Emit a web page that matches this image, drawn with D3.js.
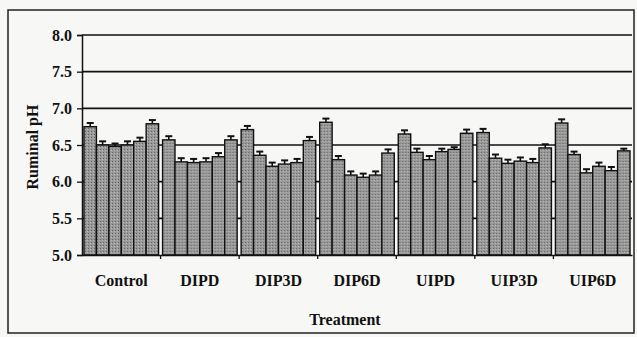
<!DOCTYPE html>
<html>
<head>
<meta charset="utf-8">
<script src="https://cdn.jsdelivr.net/npm/d3@7"></script>
<style>
  body { margin: 0; background: #f7f7f5; }
</style>
</head>
<body>
<div id="chart"></div>
<script>
// treatments and the six bars in each group
const treatments = ["Control", "DIPD", "DIP3D", "DIP6D", "UIPD", "UIP3D", "UIP6D"];
const phValues = [
  [6.75, 6.50, 6.48, 6.50, 6.55, 6.79],
  [6.57, 6.27, 6.26, 6.27, 6.34, 6.57],
  [6.71, 6.36, 6.21, 6.24, 6.26, 6.56],
  [6.81, 6.30, 6.09, 6.06, 6.09, 6.39],
  [6.65, 6.40, 6.30, 6.41, 6.44, 6.66],
  [6.67, 6.32, 6.25, 6.28, 6.26, 6.46],
  [6.80, 6.37, 6.12, 6.21, 6.15, 6.42]
];
const phErrors = [
  [0.05, 0.05, 0.04, 0.05, 0.05, 0.05],
  [0.05, 0.05, 0.05, 0.05, 0.05, 0.05],
  [0.05, 0.05, 0.05, 0.05, 0.05, 0.05],
  [0.05, 0.05, 0.05, 0.05, 0.05, 0.05],
  [0.05, 0.05, 0.05, 0.04, 0.03, 0.05],
  [0.05, 0.05, 0.05, 0.05, 0.05, 0.05],
  [0.05, 0.04, 0.05, 0.05, 0.05, 0.03]
];
const yTicks = [5.0, 5.5, 6.0, 6.5, 7.0, 7.5, 8.0];

const SERIF = '"Liberation Serif", "DejaVu Serif", serif';
const W = 637, H = 337;
const margin = {top: 35, right: 5, bottom: 82, left: 82};
const width = W - margin.left - margin.right;
const height = H - margin.top - margin.bottom;

const svg = d3.select("#chart").append("svg")
  .attr("width", W).attr("height", H);

// stippled grey fill like the scanned bars
const pat = svg.append("defs").append("pattern")
  .attr("id", "stipple").attr("width", 3).attr("height", 3)
  .attr("patternUnits", "userSpaceOnUse");
pat.append("rect").attr("width", 3).attr("height", 3).attr("fill", "#999");
pat.append("rect").attr("x", 0).attr("y", 0).attr("width", 1).attr("height", 1).attr("fill", "#666");
pat.append("rect").attr("x", 2).attr("y", 1).attr("width", 1).attr("height", 1).attr("fill", "#bbb");

// outer frame
svg.append("rect")
  .attr("x", 8).attr("y", 10).attr("width", 626).attr("height", 323)
  .attr("fill", "none").attr("stroke", "#222").attr("stroke-width", 1.5);

const g = svg.append("g").attr("transform", `translate(${margin.left},${margin.top})`);

const x0 = d3.scaleBand().domain(treatments).range([0, width]).paddingInner(0).paddingOuter(0);
const x1 = d3.scaleBand().domain(d3.range(6)).range([0, x0.bandwidth()]).paddingOuter(0.16).paddingInner(0);
const y = d3.scaleLinear().domain([5, 8]).range([height, 0]);

// gridlines
g.append("g").selectAll("line").data(yTicks.slice(1)).join("line")
  .attr("x1", 0).attr("x2", width)
  .attr("y1", d => y(d)).attr("y2", d => y(d))
  .attr("stroke", "#111").attr("stroke-width", 1.6);

// bars
const groups = g.append("g").selectAll("g").data(treatments).join("g")
  .attr("transform", d => `translate(${x0(d)},0)`);

groups.selectAll("rect")
  .data((d, i) => phValues[i].map((v, j) => ({v, j, e: phErrors[i][j]})))
  .join("rect")
  .attr("x", d => x1(d.j))
  .attr("y", d => y(d.v))
  .attr("width", x1.bandwidth())
  .attr("height", d => height - y(d.v))
  .attr("fill", "url(#stipple)")
  .attr("stroke", "#111").attr("stroke-width", 1.4);

// error bars (upper only)
const err = groups.selectAll("g.err")
  .data((d, i) => phValues[i].map((v, j) => ({v, j, e: phErrors[i][j]})))
  .join("g").attr("class", "err");
err.append("line")
  .attr("x1", d => x1(d.j) + x1.bandwidth() / 2)
  .attr("x2", d => x1(d.j) + x1.bandwidth() / 2)
  .attr("y1", d => y(d.v)).attr("y2", d => y(d.v + d.e))
  .attr("stroke", "#111").attr("stroke-width", 1.6);
err.append("line")
  .attr("x1", d => x1(d.j) + x1.bandwidth() / 2 - 3.5)
  .attr("x2", d => x1(d.j) + x1.bandwidth() / 2 + 3.5)
  .attr("y1", d => y(d.v + d.e)).attr("y2", d => y(d.v + d.e))
  .attr("stroke", "#111").attr("stroke-width", 2);

// y axis
const yAxis = g.append("g")
  .call(d3.axisLeft(y).tickValues(yTicks).tickFormat(d3.format(".1f")).tickSize(5).tickPadding(5));
yAxis.select(".domain").attr("stroke", "#111").attr("stroke-width", 1.5);
yAxis.selectAll(".tick line").attr("stroke", "#111").attr("stroke-width", 1.3);
yAxis.selectAll("text")
  .style("font-family", SERIF).style("font-weight", "bold")
  .style("font-size", "16px").attr("fill", "#111");

// x axis with ticks at group boundaries
const xAxis = g.append("g").attr("transform", `translate(0,${height})`)
  .call(d3.axisBottom(x0).tickSize(0).tickPadding(20));
xAxis.select(".domain").attr("stroke", "#111").attr("stroke-width", 1.5);
xAxis.selectAll("text")
  .style("font-family", SERIF).style("font-weight", "bold")
  .style("font-size", "16px").attr("fill", "#111");
g.append("g").selectAll("line").data(treatments.slice(1)).join("line")
  .attr("x1", d => x0(d)).attr("x2", d => x0(d))
  .attr("y1", height).attr("y2", height + 4)
  .attr("stroke", "#111").attr("stroke-width", 1.3);

// axis titles
svg.append("text")
  .attr("transform", `translate(38,${margin.top + height / 2 + 2}) rotate(-90)`)
  .attr("text-anchor", "middle")
  .style("font-family", SERIF).style("font-weight", "bold")
  .style("font-size", "16px").attr("fill", "#111")
  .text("Ruminal pH");
svg.append("text")
  .attr("x", 345).attr("y", 325)
  .attr("text-anchor", "middle")
  .style("font-family", SERIF).style("font-weight", "bold")
  .style("font-size", "16px").attr("fill", "#111")
  .text("Treatment");
</script>
</body>
</html>
